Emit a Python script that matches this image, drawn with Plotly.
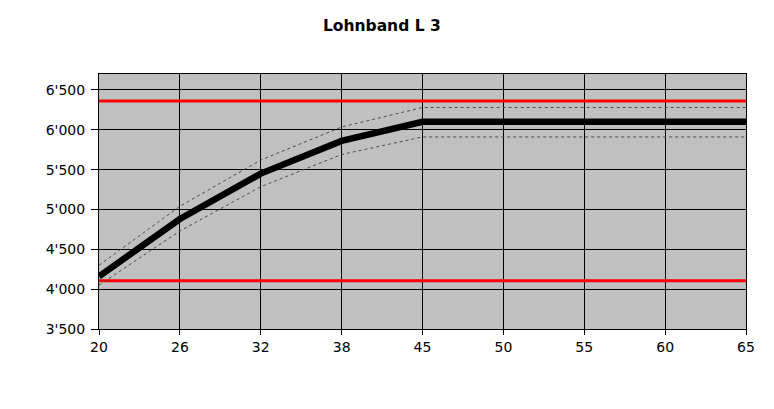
import plotly.graph_objects as go

alter = ["20", "26", "32", "38", "45", "50", "55", "60", "65"]
lohn = [4160, 4880, 5450, 5860, 6100, 6100, 6100, 6100, 6100]
lohn_oben = [4300, 5040, 5620, 6035, 6280, 6280, 6280, 6280, 6280]
lohn_unten = [4050, 4730, 5285, 5690, 5910, 5910, 5910, 5910, 5910]
band_max = [6360] * len(alter)
band_min = [4105] * len(alter)

fig = go.Figure()

fig.add_trace(go.Scatter(x=alter, y=band_max, mode="lines",
                         line=dict(color="#ff0000", width=3)))
fig.add_trace(go.Scatter(x=alter, y=band_min, mode="lines",
                         line=dict(color="#ff0000", width=3)))
fig.add_trace(go.Scatter(x=alter, y=lohn_oben, mode="lines",
                         line=dict(color="#4a4a5e", width=1, dash="dot")))
fig.add_trace(go.Scatter(x=alter, y=lohn_unten, mode="lines",
                         line=dict(color="#4a4a5e", width=1, dash="dot")))
fig.add_trace(go.Scatter(x=alter, y=lohn, mode="lines",
                         line=dict(color="#000000", width=6.5)))

# the page body adds 8px margin, so margins are shifted by that
fig.update_layout(
    width=774, height=409,
    margin=dict(l=91, r=36, t=66, b=88),
    paper_bgcolor="white",
    plot_bgcolor="#c0c0c0",
    showlegend=False,
    separators=".'",
    title=dict(text="<b>Lohnband L 3</b>", x=0.483, xanchor="center",
               y=0.958, yanchor="middle",
               font=dict(family="DejaVu Sans", size=15.5, color="black")),
    font=dict(family="DejaVu Sans", size=12, color="black"),
)
fig.update_xaxes(type="category", range=[0, 8], showgrid=True,
                 gridcolor="black", gridwidth=1, showline=True,
                 linecolor="black", linewidth=1, mirror=True,
                 ticks="outside", ticklen=5, tickcolor="black",
                 tickfont=dict(size=14))
fig.update_yaxes(range=[3500, 6700], tickvals=[3500, 4000, 4500, 5000, 5500, 6000, 6500],
                 tickformat=",d", showgrid=True, gridcolor="black", gridwidth=1,
                 showline=True, linecolor="black", linewidth=1, mirror=True,
                 ticks="outside", ticklen=7, tickcolor="black",
                 ticklabelstandoff=3,
                 zeroline=False, tickfont=dict(size=14))

fig.write_html("out.html")
